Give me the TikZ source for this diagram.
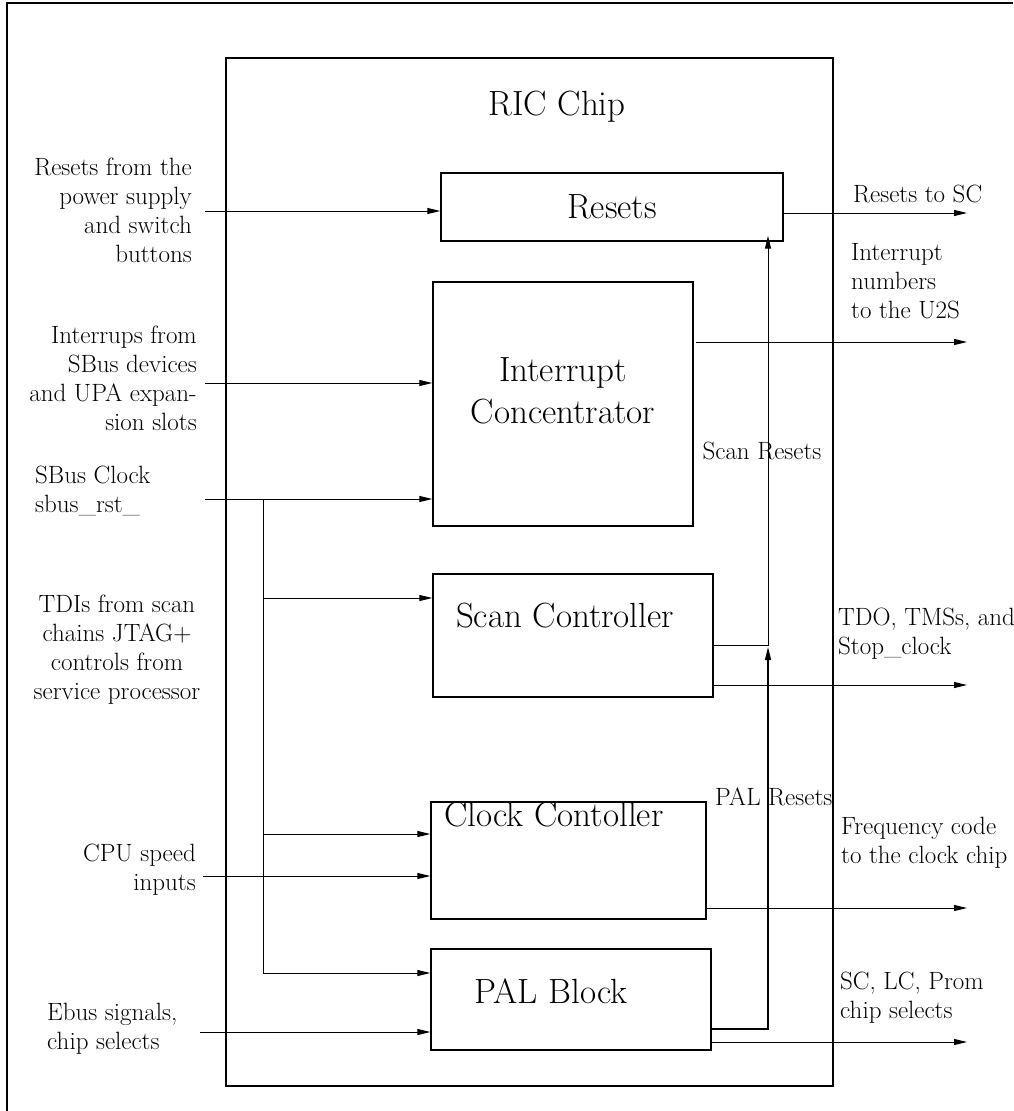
\documentclass[tikz,border=0pt]{standalone}
\usetikzlibrary{arrows.meta}
\begin{document}
\begin{tikzpicture}[x=1pt,y=-1pt,
  lbl/.style={inner sep=0pt,font=\fontsize{25}{29}\selectfont},
  ttl/.style={inner sep=0pt,font=\fontsize{35}{42}\selectfont},
  blk/.style={draw,line width=1.4pt,inner sep=0pt},
  wire/.style={line width=1pt},
  arr/.style={line width=1pt,-{Triangle[length=13pt,width=6pt]}}]
\useasboundingbox (0,0) rectangle (1013,1111);
% outer frame (only top and left visible)
\draw[line width=2pt] (7,1111) -- (7,3) -- (1013,3);
% chip
\node[blk,minimum width=607pt,minimum height=1028pt] (chip) at (529.5,572) {};
\node[ttl] (chiplbl) at (557,107) {RIC Chip};
% blocks
\node[blk,minimum width=342pt,minimum height=68pt] (resets) at (612,207) {};
\node[blk,minimum width=260pt,minimum height=244pt] (intc) at (563,404) {};
\node[blk,minimum width=280pt,minimum height=123pt] (scan) at (573,635.5) {};
\node[blk,minimum width=275pt,minimum height=117pt] (clock) at (568.5,860.5) {};
\node[blk,minimum width=280pt,minimum height=101pt] (pal) at (571,999.5) {};
\node[ttl] (resetsT) at (612,207) {Resets};
\node[ttl,align=center] (intcT) at (563,391) {Interrupt\\Concentrator};
\node[ttl] (scanT) at (565,616) {Scan Controller};
\node[ttl] (clockT) at (554,815) {Clock Contoller};
\node[ttl] (palT) at (551,991) {PAL Block};
% left labels
\node[lbl,align=right,anchor=east] (l1) at (192,210) {Resets from the\\power supply\\and switch\\buttons};
\node[lbl,align=right,anchor=east] (l2) at (197,378) {Interrups from\\SBus devices\\and UPA expan-\\sion slots};
\node[lbl,align=left,anchor=west] (l3) at (35,491) {SBus Clock\\sbus\_rst\_};
\node[lbl,align=center] (l4) at (117,650) {TDIs from scan\\chains JTAG+\\controls from\\service processor};
\node[lbl,align=right,anchor=east] (l5) at (196,870) {CPU speed\\inputs};
\node[lbl,align=left,anchor=west] (l6) at (47,1029) {Ebus signals,\\chip selects};
% right labels
\node[lbl,anchor=west] (r1) at (853,194) {Resets to SC};
\node[lbl,align=left,anchor=west] (r2) at (851,281) {Interrupt\\numbers\\to the U2S};
\node[lbl] (r3) at (762,451) {Scan Resets};
\node[lbl,align=left,anchor=west] (r4) at (838,634) {TDO, TMSs, and\\Stop\_clock};
\node[lbl,anchor=west] (r5) at (715,797) {PAL Resets};
\node[lbl,align=left,anchor=west] (r6) at (841,843) {Frequency code\\to the clock chip};
\node[lbl,align=left,anchor=west] (r7) at (840,998) {SC, LC, Prom\\chip selects};
% free ends
\coordinate (i1) at (205,211);
\coordinate (i2) at (205,383);
\coordinate (i3) at (205,499);
\coordinate (i5) at (203,876);
\coordinate (i6) at (200,1032);
\coordinate (tap) at (263,499);
\coordinate (t1) at (263,598);
\coordinate (t2) at (263,834);
\coordinate (t3) at (263,973);
\coordinate (rx) at (768,0);
\coordinate (ox) at (967,0);
% inputs
\draw[arr] (i1) -- (i1 -| resets.west);
\draw[arr] (i2) -- (i2 -| intc.west);
\draw[arr] (i3) -- (i3 -| intc.west);
\draw[arr] (i5) -- (i5 -| clock.west);
\draw[arr] (i6) -- (i6 -| pal.west);
% trunk
\draw[wire] (tap) -- (t3);
\draw[arr] (t1) -- (t1 -| scan.west);
\draw[arr] (t2) -- (t2 -| clock.west);
\draw[arr] (t3) -- (t3 -| pal.west);
% outputs
\draw[arr] (resets.east |- 0,213) -- (ox |- 0,213);
\draw[arr] ([xshift=2pt]intc.east |- 0,342) -- (ox |- 0,342);
\draw[arr] (scan.east |- 0,685) -- (ox |- 0,685);
\draw[arr] (clock.east |- 0,908) -- (ox |- 0,908);
\draw[arr] (pal.east |- 0,1042) -- (ox |- 0,1042);
% reset paths
\draw[arr] (scan.east |- 0,645) -| ([yshift=6pt]resets.south -| rx);
\draw[arr,line width=1.3pt] (pal.east |- 0,1029) -| (rx |- 0,647);
\end{tikzpicture}
\end{document}
